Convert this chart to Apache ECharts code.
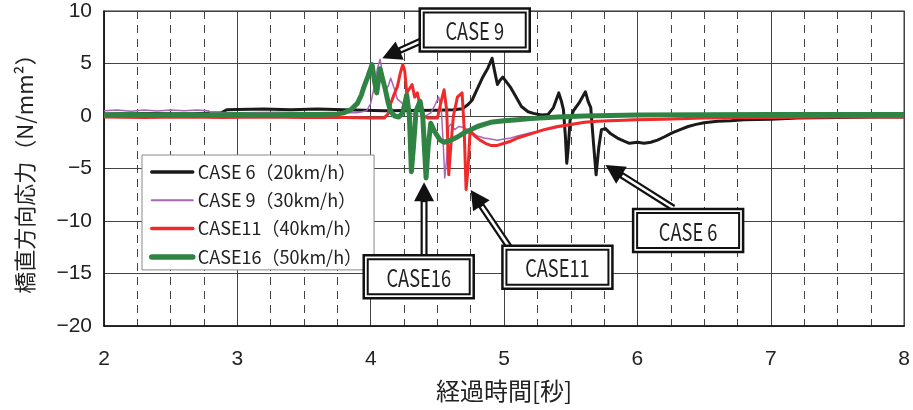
<!DOCTYPE html>
<html><head><meta charset="utf-8">
<script src="https://cdn.jsdelivr.net/npm/echarts@6/dist/echarts.min.js"></script>
<style>html,body{margin:0;padding:0;background:#fff}#c{width:913px;height:410px}</style>
</head><body><div id="c"></div>
<script>
// ---- data (time [s], stress [N/mm2]) ----
const seriesNames = ['CASE 6（20km/h）', 'CASE 9（30km/h）', 'CASE11（40km/h）', 'CASE16（50km/h）'];

const case6 = [[2.0,0.2],[2.3,0.25],[2.6,0.2],[2.88,0.3],[2.92,0.6],[3.0,0.62],[3.2,0.66],[3.4,0.6],[3.6,0.66],[3.8,0.6],[3.95,0.55],[4.1,0.5],[4.3,0.52],[4.5,0.55],[4.62,0.6],[4.69,0.7],[4.73,1.1],[4.76,1.5],[4.80,2.6],[4.84,3.7],[4.88,4.6],[4.91,5.5],[4.93,4.2],[4.95,3.0],[4.97,3.4],[4.99,3.7],[5.02,3.2],[5.05,2.7],[5.09,1.8],[5.13,0.9],[5.18,0.4],[5.22,0.25],[5.28,0.1],[5.33,0.15],[5.37,0.8],[5.41,2.2],[5.43,1.4],[5.445,0.6],[5.46,-2.0],[5.47,-4.5],[5.48,-3.2],[5.495,-0.4],[5.52,0.5],[5.56,1.2],[5.61,2.3],[5.63,1.4],[5.65,0.8],[5.67,-2.5],[5.69,-5.6],[5.71,-3.0],[5.73,-1.3],[5.76,-1.2],[5.80,-1.7],[5.85,-2.1],[5.90,-2.4],[5.94,-2.6],[6.0,-2.5],[6.05,-2.6],[6.1,-2.5],[6.15,-2.3],[6.2,-2.0],[6.26,-1.6],[6.32,-1.3],[6.38,-1.0],[6.44,-0.8],[6.5,-0.65],[6.6,-0.5],[6.7,-0.45],[6.8,-0.35],[7.0,-0.3],[7.2,-0.2],[7.5,-0.15],[7.8,-0.1],[8.0,-0.1]];

const case9 = [[2.0,0.5],[2.1,0.58],[2.2,0.45],[2.3,0.56],[2.4,0.48],[2.5,0.57],[2.6,0.5],[2.7,0.56],[2.78,0.5],[2.8,0.35],[3.0,0.3],[3.3,0.36],[3.6,0.3],[3.9,0.3],[3.97,0.5],[4.0,1.2],[4.03,3.0],[4.05,4.5],[4.07,5.4],[4.09,4.0],[4.11,2.5],[4.13,2.8],[4.15,3.6],[4.18,2.5],[4.20,1.6],[4.23,1.3],[4.26,0.8],[4.30,0.3],[4.35,0.0],[4.40,-0.1],[4.45,0.3],[4.48,1.0],[4.51,1.8],[4.53,0.5],[4.545,-3.0],[4.555,-5.9],[4.57,-4.0],[4.585,-1.0],[4.60,-0.8],[4.63,-1.3],[4.66,-1.0],[4.70,-1.1],[4.75,-1.5],[4.80,-1.9],[4.85,-2.1],[4.90,-2.2],[4.95,-2.3],[5.0,-2.2],[5.05,-2.1],[5.1,-1.9],[5.2,-1.6],[5.3,-1.35],[5.4,-1.1],[5.5,-0.85],[5.6,-0.65],[5.7,-0.5],[5.8,-0.4],[6.0,-0.3],[6.5,-0.2],[7.0,-0.1],[7.5,0.0],[8.0,0.0]];

const case11 = [[2.0,-0.1],[2.3,-0.15],[2.6,-0.1],[2.9,-0.15],[3.2,-0.1],[3.5,-0.15],[3.8,-0.15],[4.0,-0.2],[4.1,-0.2],[4.13,0.2],[4.15,1.2],[4.18,2.2],[4.20,2.8],[4.22,4.0],[4.24,4.9],[4.255,4.3],[4.27,2.2],[4.29,2.6],[4.31,3.0],[4.33,1.8],[4.35,2.2],[4.37,1.0],[4.40,0.0],[4.43,-0.2],[4.50,-0.2],[4.53,1.5],[4.55,2.5],[4.57,0.5],[4.585,-5.6],[4.60,-3.0],[4.62,0.0],[4.65,1.8],[4.685,2.2],[4.70,-1.0],[4.715,-7.0],[4.73,-5.0],[4.745,-1.4],[4.78,-1.9],[4.82,-2.3],[4.86,-2.6],[4.90,-2.8],[4.95,-2.8],[5.0,-2.6],[5.05,-2.4],[5.1,-2.1],[5.2,-1.7],[5.3,-1.3],[5.4,-1.0],[5.5,-0.8],[5.6,-0.6],[5.7,-0.5],[5.8,-0.45],[6.0,-0.35],[6.2,-0.3],[6.5,-0.2],[7.0,-0.15],[7.5,-0.1],[8.0,-0.1]];

const case16 = [[2.0,0.1],[2.2,0.15],[2.4,0.1],[2.6,0.15],[2.8,0.1],[3.0,0.15],[3.2,0.1],[3.4,0.15],[3.6,0.15],[3.75,0.2],[3.80,0.3],[3.85,0.6],[3.90,1.2],[3.93,2.0],[3.95,2.8],[3.98,3.8],[4.01,4.9],[4.03,3.2],[4.045,2.2],[4.07,4.5],[4.09,3.5],[4.11,2.5],[4.13,1.3],[4.15,0.4],[4.18,0.0],[4.21,-0.1],[4.24,0.3],[4.27,2.0],[4.29,0.0],[4.305,-5.3],[4.32,-3.0],[4.34,0.5],[4.37,1.4],[4.39,0.0],[4.415,-5.9],[4.43,-3.0],[4.45,-0.7],[4.48,-1.5],[4.52,-2.3],[4.55,-2.5],[4.60,-2.3],[4.65,-2.0],[4.70,-1.6],[4.75,-1.3],[4.80,-1.0],[4.85,-0.8],[4.90,-0.6],[5.0,-0.45],[5.1,-0.35],[5.2,-0.25],[5.4,-0.1],[5.6,0.0],[5.8,0.05],[6.0,0.1],[6.5,0.12],[7.0,0.15],[7.5,0.15],[8.0,0.15]];

const xTickLabels = [2, 3, 4, 5, 6, 7, 8];
const yTickLabels = [-20, -15, -10, -5, 0, 5, 10];

// callouts: label, box centre, arrow tail, arrow tip (data coordinates)
const calloutLabels = ['CASE 9', 'CASE16', 'CASE11', 'CASE 6'];
const calloutBox = [[4.78, 8.2], [4.36, -15.3], [5.40, -14.4], [6.38, -10.9]];
const calloutTail = [[4.44, 7.5], [4.40, -13.2], [5.04, -12.5], [6.27, -8.76]];
const calloutTip = [[4.087, 5.5], [4.40, -6.3], [4.75, -7.05], [5.76, -4.67]];

// ---- chart ----
const colors = ['#1a1a1a', '#a866b4', '#f02a2a', '#2f8444'];
const widths = [3, 1.5, 3, 5];
const dataSets = [case6, case9, case11, case16];

const chart = echarts.init(document.getElementById('c'), null, {renderer: 'canvas'});
const latin = 'Liberation Sans, Arial, sans-serif';
const cjk = 'Noto Sans CJK JP, sans-serif';
const minus = v => String(v).replace('-', '−');

chart.setOption({
  animation: false,
  backgroundColor: '#fff',
  grid: {left: 104, right: 7, top: 11, bottom: 84, show: true, borderColor: '#222', borderWidth: 1.2},
  legend: {
    show: true, orient: 'vertical', left: 142, top: 155,
    backgroundColor: '#fff', borderColor: '#888', borderWidth: 1,
    padding: [8, 12, 4, 7], itemGap: 10.3, itemWidth: 41, itemHeight: 14,
    textStyle: {fontFamily: cjk, fontSize: 18, color: '#222'},
    data: seriesNames.map((n, i) => ({name: n, itemStyle: {color: 'rgba(0,0,0,0)', borderColor: 'rgba(0,0,0,0)', borderWidth: 0, opacity: 0}, lineStyle: {color: colors[i], width: widths[i] + 0.5, cap: 'round'}}))
  },
  xAxis: {
    type: 'value', min: xTickLabels[0], max: xTickLabels[xTickLabels.length - 1], interval: 1,
    axisLine: {show: true, onZero: false, lineStyle: {color: '#111', width: 1.5}},
    axisTick: {show: false},
    axisLabel: {fontFamily: latin, fontSize: 21, color: '#222', margin: 23},
    splitLine: {show: true, lineStyle: {color: '#444', width: 1}},
    minorTick: {show: false, splitNumber: 4},
    minorSplitLine: {show: true, lineStyle: {color: '#444', width: 1, type: [8, 6]}},
    name: '経過時間[秒]', nameLocation: 'middle', nameGap: 53,
    nameTextStyle: {fontFamily: cjk, fontSize: 24, color: '#222'}
  },
  yAxis: {
    type: 'value', min: yTickLabels[0], max: yTickLabels[yTickLabels.length - 1], interval: 5,
    axisLine: {show: true, lineStyle: {color: '#111', width: 1.5}},
    axisTick: {show: false},
    axisLabel: {fontFamily: latin, fontSize: 21, color: '#222', margin: 12, formatter: minus},
    splitLine: {show: true, lineStyle: {color: '#444', width: 1}},
    name: '橋直方向応力（N/mm²）', nameLocation: 'middle', nameGap: 68,
    nameTextStyle: {fontFamily: cjk, fontSize: 22, color: '#222'}
  },
  series: dataSets.map((d, i) => ({
    name: seriesNames[i], type: 'line', data: d, showSymbol: false, symbol: 'none',
    lineStyle: {color: colors[i], width: widths[i], join: 'round'},
    itemStyle: {color: colors[i]}, z: 2 + i
  }))
});

// callout graphics (boxes + double-line arrows) anchored to data coordinates
const g = [];
const toPx = p => chart.convertToPixel({gridIndex: 0}, p);
calloutLabels.forEach((lab, i) => {
  const tip = toPx(calloutTip[i]);
  const tail = toPx(calloutTail[i]);
  const c = toPx(calloutBox[i]);
  const dx = tip[0] - tail[0], dy = tip[1] - tail[1];
  const L = Math.hypot(dx, dy), ux = dx / L, uy = dy / L;
  const headLen = 19, headHalf = 10;
  const bx = tip[0] - ux * headLen, by = tip[1] - uy * headLen;
  g.push({type: 'line', z: 100, shape: {x1: tail[0], y1: tail[1], x2: bx + ux * 2, y2: by + uy * 2}, style: {stroke: '#111', lineWidth: 7}});
  g.push({type: 'line', z: 101, shape: {x1: tail[0], y1: tail[1], x2: bx - ux * 1, y2: by - uy * 1}, style: {stroke: '#fff', lineWidth: 2.6}});
  g.push({type: 'polygon', z: 102, shape: {points: [[tip[0], tip[1]], [bx - uy * headHalf, by + ux * headHalf], [bx + uy * headHalf, by - ux * headHalf]]}, style: {fill: '#111'}});
  const W = 110, H = 43;
  g.push({type: 'rect', z: 103, shape: {x: c[0] - W / 2, y: c[1] - H / 2, width: W, height: H}, style: {fill: '#fff', stroke: '#111', lineWidth: 2.5}});
  g.push({type: 'rect', z: 104, shape: {x: c[0] - W / 2 + 4, y: c[1] - H / 2 + 4, width: W - 8, height: H - 8}, style: {fill: '#fff', stroke: '#111', lineWidth: 2}});
  g.push({type: 'text', z: 105, x: c[0], y: c[1] + 1, scaleX: 0.76, style: {text: lab, fontFamily: cjk, fontSize: 24, fill: '#222', align: 'center', verticalAlign: 'middle'}});
});
chart.setOption({graphic: g});
</script>
</body></html>
